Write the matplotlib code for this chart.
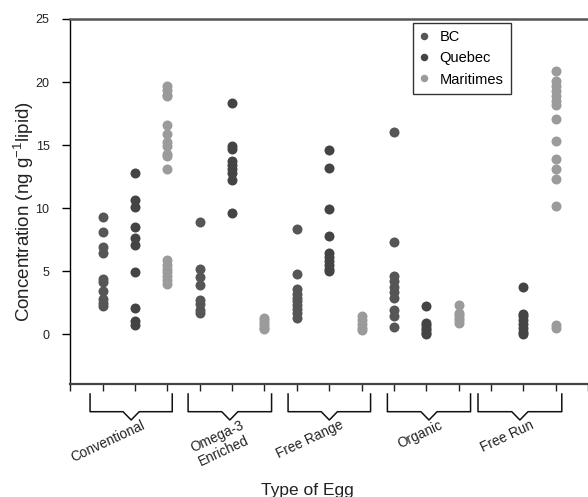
import matplotlib
matplotlib.use("Agg")
import matplotlib.pyplot as plt
import matplotlib.transforms as mtransforms

plt.rcParams['font.family'] = ['Liberation Sans', 'DejaVu Sans']
plt.rcParams['mathtext.fontset'] = 'custom'
plt.rcParams['mathtext.rm'] = 'Liberation Sans'
plt.rcParams['mathtext.it'] = 'Liberation Sans'

# ---- data ----
egg_types = ["Conventional", "Omega-3\nEnriched", "Free Range", "Organic", "Free Run"]
provinces = ["BC", "Quebec", "Maritimes"]

bc_values = [
    [9.3, 8.1, 6.9, 6.4, 4.4, 4.1, 3.4, 2.8, 2.5, 2.2],
    [8.9, 5.2, 4.5, 3.9, 2.7, 2.4, 1.9, 1.7],
    [8.3, 4.8, 3.6, 3.2, 2.9, 2.6, 2.3, 2.0, 1.7, 1.3],
    [16.0, 7.3, 4.6, 4.2, 3.7, 3.3, 2.9, 1.9, 1.4, 0.6],
    [],
]
quebec_values = [
    [12.8, 10.6, 10.1, 8.5, 7.6, 7.1, 4.9, 2.1, 1.0, 0.7],
    [18.3, 14.9, 14.7, 13.7, 13.4, 13.1, 12.8, 12.2, 9.6],
    [14.6, 13.2, 9.9, 7.8, 6.4, 6.1, 5.8, 5.5, 5.2, 5.0],
    [2.2, 0.9, 0.7, 0.5, 0.3, 0.1, 0.0],
    [3.7, 1.6, 1.4, 1.1, 0.8, 0.5, 0.2, 0.0],
]
maritimes_values = [
    [19.7, 19.4, 19.0, 18.9, 16.6, 15.9, 15.2, 14.9, 14.3, 14.1, 13.1,
     5.9, 5.5, 5.2, 4.9, 4.6, 4.3, 4.0],
    [1.3, 1.1, 0.9, 0.7, 0.5, 0.4],
    [1.4, 1.1, 0.8, 0.5, 0.3],
    [2.3, 1.7, 1.5, 1.3, 1.1, 0.9],
    [20.9, 20.1, 19.7, 19.3, 18.9, 18.5, 18.2, 17.1, 15.3, 13.9, 13.1,
     12.3, 10.2, 0.7, 0.5],
]
y_ticks = [0, 5, 10, 15, 20, 25]

# bracket spans under each egg type (x in data units)
bracket_spans = [(0.61, 3.15), (3.64, 6.22), (6.73, 9.28), (9.8, 12.37), (12.6, 15.19)]

colors = {"BC": "#565656", "Quebec": "#444444", "Maritimes": "#9b9b9b"}
series = {"BC": bc_values, "Quebec": quebec_values, "Maritimes": maritimes_values}

fig = plt.figure(figsize=(5.88, 4.97), dpi=100)
ax = fig.add_axes([0.1196, 0.2264, 0.8804, 0.7354])

for p_idx, prov in enumerate(provinces):
    first = True
    for g_idx, vals in enumerate(series[prov]):
        if not vals:
            continue
        xpos = 3 * g_idx + p_idx + 1
        ax.plot([xpos] * len(vals), vals, 'o', ls='none', color=colors[prov],
                markersize=7.2, markeredgewidth=0,
                label=prov if first else None, clip_on=False, zorder=3)
        first = False

ax.set_xlim(0, 16)
ax.set_ylim(-4, 25)
ax.set_yticks(y_ticks)
ax.set_xticks(range(0, 17))
ax.set_xticklabels([])
ax.tick_params(axis='y', direction='out', length=6, width=1, labelsize=9,
               pad=9, colors='#000000', labelcolor='#222222')
ax.tick_params(axis='x', direction='out', length=5, width=1, colors='#222222')

ax.spines['right'].set_visible(False)
ax.spines['top'].set_color('#555555')
ax.spines['top'].set_linewidth(1.8)
ax.spines['bottom'].set_color('#444444')
ax.spines['bottom'].set_linewidth(1.6)
ax.spines['left'].set_color('#000000')
ax.spines['left'].set_linewidth(1.0)

leg = ax.legend(loc='upper left', bbox_to_anchor=(0.661, 0.99), fontsize=10.5,
                frameon=True, fancybox=False, edgecolor='#000000',
                handlelength=0.6, handletextpad=0.75, labelspacing=0.5,
                borderpad=0.5, borderaxespad=0, markerscale=0.75)
leg.get_frame().set_linewidth(1.0)

# brackets
trans = mtransforms.blended_transform_factory(ax.transData, fig.transFigure)
y_top = 1 - 394 / 497
y_bar = 1 - 411.7 / 497
y_tip = 1 - 420 / 497
v_half = 0.25
for (lo, hi), name in zip(bracket_spans, egg_types):
    c = (lo + hi) / 2
    xs = [lo, lo, c - v_half, c, c + v_half, hi, hi]
    ys = [y_top, y_bar, y_bar, y_tip, y_bar, y_bar, y_top]
    ax.plot(xs, ys, color='#111111', lw=1.1, transform=trans, clip_on=False)
    ax.text(c + 0.31, 1 - 418 / 497, name, transform=trans, rotation=25,
            rotation_mode='anchor', ha='right', va='top', fontsize=9.8,
            color='#222222', multialignment='center', linespacing=1.15)

fig.text(307.5 / 588, 1 - 495 / 497, "Type of Egg", ha='center', va='baseline',
         fontsize=12.5, color='#222222')
fig.text(24 / 588, 1 - 212 / 497, r"Concentration (ng g$^{-1}$lipid)",
         rotation=90, ha='center', va='center', fontsize=13.5, color='#222222')

fig.savefig("out.png", dpi=100)
